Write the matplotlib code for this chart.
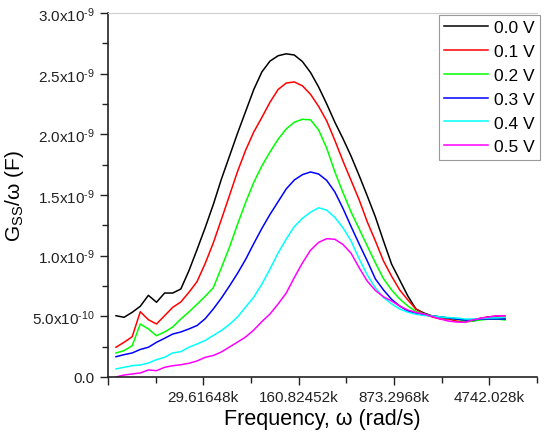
import numpy as np
import matplotlib
matplotlib.use("Agg")
import matplotlib.pyplot as plt
from matplotlib.ticker import FixedLocator, NullFormatter

plt.rcParams['font.family'] = ['Liberation Sans', 'DejaVu Sans']
plt.rcParams['mathtext.fontset'] = 'custom'
plt.rcParams['mathtext.rm'] = 'Liberation Sans'

# measurement frequencies (Hz), 16 points per decade
freq_hz = [1000, 1155, 1334, 1540, 1778, 2054, 2371, 2738, 3162, 3652, 4217, 4870,
           5623, 6494, 7499, 8660, 10000, 11548, 13335, 15399, 17783, 20535, 23714,
           27384, 31623, 36517, 42170, 48697, 56234, 64938, 74989, 86596, 100000,
           115478, 133352, 153993, 177828, 205353, 237137, 273842, 316228, 365174,
           421697, 486968, 562341, 649382, 749894, 865964, 1000000]

# Gss/omega in units of 1e-9 F
g_00 = [0.505, 0.492, 0.533, 0.583, 0.673, 0.616, 0.692, 0.692, 0.725, 0.876,
        1.050, 1.230, 1.420, 1.630, 1.820, 2.010, 2.190, 2.370, 2.515, 2.604,
        2.648, 2.664, 2.654, 2.600, 2.510, 2.390, 2.250, 2.100, 1.965, 1.820,
        1.660, 1.492, 1.319, 1.121, 0.930, 0.799, 0.668, 0.560, 0.527, 0.503,
        0.495, 0.486, 0.478, 0.470, 0.461, 0.478, 0.495, 0.495, 0.478]
g_01 = [0.245, 0.286, 0.332, 0.538, 0.472, 0.437, 0.505, 0.574, 0.618, 0.698,
        0.786, 0.935, 1.104, 1.298, 1.496, 1.695, 1.870, 2.020, 2.140, 2.265,
        2.370, 2.423, 2.432, 2.400, 2.330, 2.230, 2.110, 1.950, 1.780, 1.620,
        1.460, 1.278, 1.121, 0.956, 0.830, 0.717, 0.635, 0.560, 0.519, 0.495,
        0.478, 0.478, 0.461, 0.453, 0.461, 0.486, 0.495, 0.503, 0.503]
g_02 = [0.198, 0.217, 0.258, 0.437, 0.396, 0.340, 0.371, 0.412, 0.478, 0.536,
        0.600, 0.665, 0.735, 0.900, 1.070, 1.260, 1.440, 1.605, 1.740, 1.855,
        1.960, 2.045, 2.100, 2.124, 2.120, 2.036, 1.885, 1.690, 1.520, 1.360,
        1.220, 1.080, 0.940, 0.810, 0.717, 0.643, 0.585, 0.540, 0.519, 0.503,
        0.495, 0.486, 0.478, 0.461, 0.461, 0.470, 0.478, 0.478, 0.470]
g_03 = [0.167, 0.184, 0.198, 0.227, 0.245, 0.286, 0.319, 0.354, 0.371, 0.396,
        0.424, 0.480, 0.560, 0.650, 0.750, 0.855, 0.970, 1.100, 1.225, 1.340,
        1.445, 1.550, 1.624, 1.668, 1.690, 1.673, 1.620, 1.525, 1.390, 1.240,
        1.096, 0.956, 0.808, 0.717, 0.640, 0.585, 0.544, 0.523, 0.511, 0.503,
        0.495, 0.486, 0.478, 0.470, 0.470, 0.478, 0.478, 0.478, 0.478]
g_04 = [0.066, 0.080, 0.093, 0.099, 0.115, 0.143, 0.162, 0.198, 0.209, 0.245,
        0.272, 0.301, 0.342, 0.383, 0.433, 0.495, 0.577, 0.659, 0.766, 0.890,
        1.022, 1.137, 1.240, 1.308, 1.358, 1.395, 1.375, 1.315, 1.230, 1.121,
        0.973, 0.841, 0.734, 0.655, 0.602, 0.560, 0.534, 0.517, 0.507, 0.503,
        0.495, 0.490, 0.486, 0.478, 0.478, 0.482, 0.486, 0.488, 0.490]
g_05 = [0.000, 0.016, 0.025, 0.033, 0.058, 0.052, 0.080, 0.093, 0.101, 0.113,
        0.132, 0.162, 0.177, 0.206, 0.247, 0.288, 0.330, 0.387, 0.457, 0.519,
        0.602, 0.692, 0.820, 0.940, 1.045, 1.110, 1.140, 1.135, 1.092, 1.020,
        0.900, 0.790, 0.713, 0.661, 0.626, 0.585, 0.552, 0.532, 0.519, 0.499,
        0.478, 0.461, 0.453, 0.451, 0.470, 0.484, 0.495, 0.505, 0.505]

labels = ['0.0 V', '0.1 V', '0.2 V', '0.3 V', '0.4 V', '0.5 V']
colors = ['#000000', '#FF0000', '#00FF00', '#0000FF', '#00FFFF', '#FF00FF']

x_major = [5453.8, 29616.48, 160824.52, 873296.8, 4742028]
x_major_labels = ['', '29.61648k', '160.82452k', '873.2968k', '4742.028k']
x_minor = [12709.3, 69015, 374768, 2035036, 11050380]

y_major = [0.0, 0.5e-9, 1.0e-9, 1.5e-9, 2.0e-9, 2.5e-9, 3.0e-9]
y_major_labels = ['0.0', r'$\mathregular{5.0x10^{\text{-10}}}$', r'$\mathregular{1.0x10^{\text{-9}}}$',
                  r'$\mathregular{1.5x10^{\text{-9}}}$', r'$\mathregular{2.0x10^{\text{-9}}}$',
                  r'$\mathregular{2.5x10^{\text{-9}}}$', r'$\mathregular{3.0x10^{\text{-9}}}$']

omega = 2 * np.pi * np.array(freq_hz)

fig = plt.figure(figsize=(5.44, 4.39), dpi=100)
ax = fig.add_axes([0.1985, 0.139, 0.7885, 0.829])

for g, lab, c in zip([g_00, g_01, g_02, g_03, g_04, g_05], labels, colors):
    ax.plot(omega, np.array(g) * 1e-9, color=c, lw=1.1, label=lab)

ax.set_xscale('log')
ax.set_xlim(5453.8, 11050380)
ax.set_ylim(0, 3.0e-9)
ax.xaxis.set_major_locator(FixedLocator(x_major))
ax.xaxis.set_minor_locator(FixedLocator(x_minor))
ax.set_xticklabels(x_major_labels)
ax.xaxis.set_minor_formatter(NullFormatter())
ax.set_yticks(y_major)
ax.set_yticklabels(y_major_labels)
ax.set_yticks(np.arange(0.25e-9, 3.0e-9, 0.5e-9), minor=True)

ax.tick_params(which='major', direction='out', length=6, width=1, labelsize=11, colors='#222222')
ax.tick_params(which='minor', direction='out', length=4, width=1, colors='#222222')
for s in ['left', 'bottom']:
    ax.spines[s].set_color('#222222')
    ax.spines[s].set_linewidth(1.2)
ax.spines['top'].set_color('#cccccc')
ax.spines['top'].set_linewidth(0.8)
ax.spines['right'].set_visible(False)

ax.set_xlabel('Frequency, ω (rad/s)', fontsize=15.5, labelpad=3)
ax.set_ylabel(r'G$_{\mathregular{SS}}$/ω (F)', fontsize=15, labelpad=4)

leg = ax.legend(loc='upper right', bbox_to_anchor=(1.007, 0.995), fontsize=12.5,
                fancybox=False, handlelength=2.5, handletextpad=0.35,
                labelspacing=0.5, borderpad=0.3, borderaxespad=0.0, framealpha=1)
leg.get_frame().set_edgecolor('#999999')
leg.get_frame().set_linewidth(0.8)

plt.savefig('out.png', dpi=100)
